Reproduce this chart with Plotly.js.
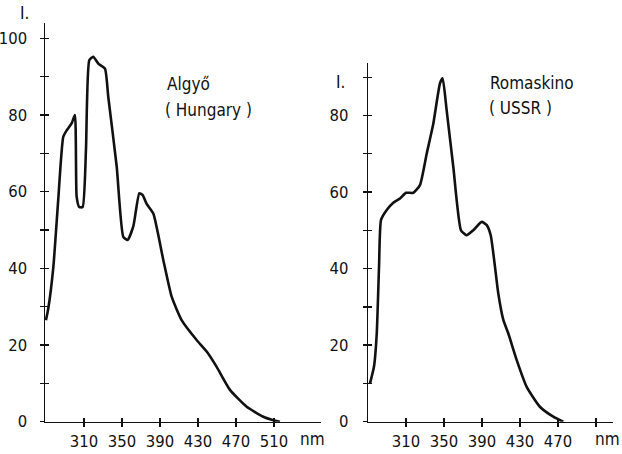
<!DOCTYPE html>
<html><head><meta charset="utf-8">
<script src="https://cdn.plot.ly/plotly-3.0.1.min.js"></script>
<style>html,body{margin:0;padding:0;background:#fff}#c{width:622px;height:454px}</style>
</head><body><div id="c"></div>
<script>
// Algyő (Hungary) spectrum: wavelength (nm) vs intensity
const hunX = [270,272.5,277.8,282.9,288.2,291.8,297,300.5,302.3,305,308.6,312.1,315.6,319.8,325.1,332.1,335.6,344.5,351.4,356,362,368.3,371.8,376,383,393.5,402.3,412.8,428.6,439.2,449.7,463.7,481.3,498.7,509.3,516.3];
const hunY = [26.5,29.6,40.4,57.8,74.3,76,77.8,80,58.7,56,56,70.8,94.3,95.2,93.4,92.1,84.7,66.5,48.2,47.4,51,59.6,59.1,56.8,54.3,42.2,32.6,26.5,21.3,18.3,14.3,8.3,3.9,1.3,0.4,0];
// Romaskino (USSR) spectrum
const rusX = [272.1,276.3,279.2,281.6,283.7,289.7,296.6,303.7,310,317.7,324.7,331.8,338.8,345.8,348.6,352.8,359.8,367.9,373.9,380.8,389.7,394.9,399.2,403.7,407.2,412.5,417.7,426.6,437.1,451,465.1,475.6];
const rusY = [10,14.4,23,40.5,52.7,55.3,57.2,58.3,59.8,59.8,61.8,70,77.9,88.4,89.7,81.4,66.6,50,48.7,50,52.2,51.4,48.7,40.5,33.5,26.6,23.1,16.1,9.1,3.9,1.3,0];

const xTicksL = [310,350,390,430,470,510];
const xLabelsL = ['310','350','390','430','470','510'];
const xTicksR = [310,350,390,430,470,510];
const xLabelsR = ['310','350','390','430','470',''];
const yTicksL = [0,10,20,30,40,50,60,70,80,90,100];
const yLabelsL = ['0','','20','','40','','60','','80','','100'];
const yTicksR = [0,10,20,30,40,50,60,70,80,90];
const yLabelsR = ['0','','20','','40','','60','','80',''];

const FONT = {family:'DejaVu Sans Condensed, DejaVu Sans, sans-serif', size:16.5, color:'#111'};
const TFONT = {family:'DejaVu Sans Condensed, DejaVu Sans, sans-serif', size:17, color:'#111'};
const lineStyle = {color:'#111', width:2.6, shape:'spline', smoothing:0.5};

const traces = [
  {x:hunX, y:hunY, xaxis:'x', yaxis:'y', mode:'lines', line:lineStyle, hoverinfo:'skip'},
  {x:rusX, y:rusY, xaxis:'x2', yaxis:'y2', mode:'lines', line:lineStyle, hoverinfo:'skip'},
  {x:[], y:[], xaxis:'x3', yaxis:'y3', mode:'lines'},
  {x:[], y:[], xaxis:'x4', yaxis:'y4', mode:'lines'}
];

const rangeXL = [269, 559.5], rangeXR = [270.3, 528];
const rangeYL = [0, 104], rangeYR = [0, 93.7];
const domXL = [45/622, 321/622], domXR = [368.3/622, 613/622];
const domYL = [32.3/454, 431/454], domYR = [32.3/454, 391/454];

function ax(o){
  return Object.assign({showgrid:false, zeroline:false, showline:true, linecolor:'#111', linewidth:1.5,
    ticks:'outside', ticklen:4, tickwidth:1.3, tickcolor:'#111', tickfont:FONT, tickmode:'array',
    fixedrange:true}, o);
}
function ann(text, px, py, xa){
  return {text:text, x:px/622, y:1-py/454, xref:'paper', yref:'paper', xanchor:xa||'center', yanchor:'middle', showarrow:false, font:TFONT};
}
const layout = {
  width:622, height:454, margin:{l:0,r:0,t:0,b:0}, showlegend:false,
  paper_bgcolor:'#fff', plot_bgcolor:'rgba(0,0,0,0)',
  xaxis: ax({domain:domXL, range:rangeXL, anchor:'y', tickvals:xTicksL, ticktext:xLabelsL, ticklabelstandoff:0}),
  yaxis: ax({domain:domYL, range:rangeYL, anchor:'x', tickvals:yTicksL, ticktext:yLabelsL, ticklabelstandoff:9}),
  xaxis2: ax({domain:domXR, range:rangeXR, anchor:'y2', tickvals:xTicksR, ticktext:xLabelsR, ticklabelstandoff:0}),
  yaxis2: ax({domain:domYR, range:rangeYR, anchor:'x2', tickvals:yTicksR, ticktext:yLabelsR, ticklabelstandoff:11}),
  xaxis3: ax({overlaying:'x', anchor:'y', range:rangeXL, tickvals:xTicksL, ticks:'inside', showticklabels:false, showline:false}),
  yaxis3: ax({overlaying:'y', anchor:'x', range:rangeYL, tickvals:yTicksL, ticks:'inside', showticklabels:false, showline:false}),
  xaxis4: ax({overlaying:'x2', anchor:'y2', range:rangeXR, tickvals:xTicksR, ticks:'inside', showticklabels:false, showline:false}),
  yaxis4: ax({overlaying:'y2', anchor:'x2', range:rangeYR, tickvals:yTicksR, ticks:'inside', showticklabels:false, showline:false}),
  annotations: [
    ann('I.', 24, 13),
    ann('I.', 340, 82),
    ann('nm', 312, 439),
    ann('nm', 607, 439),
    ann('Algyő', 165, 84, 'left'),
    ann('( Hungary )', 163, 110, 'left'),
    ann('Romaskino', 488, 83, 'left'),
    ann('( USSR )', 487, 108, 'left')
  ]
};
Plotly.newPlot('c', traces, layout, {staticPlot:true, displayModeBar:false});
</script></body></html>
